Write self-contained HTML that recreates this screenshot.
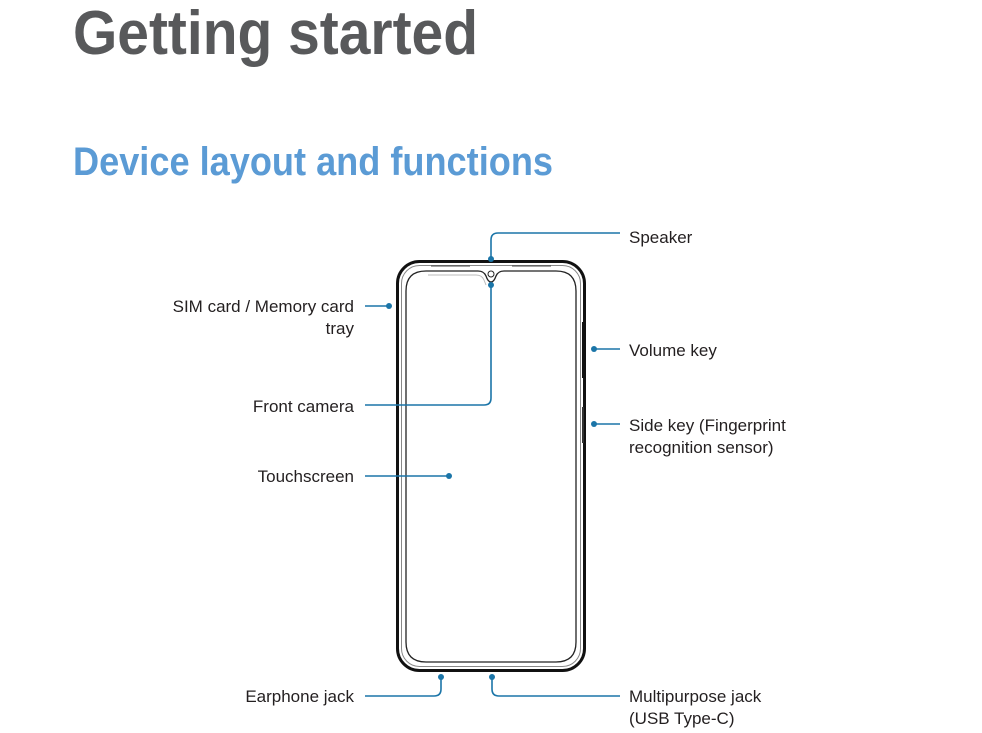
<!DOCTYPE html>
<html><head><meta charset="utf-8"><style>
html,body{margin:0;padding:0;background:#fff;}
svg{display:block;}
text{font-family:"Liberation Sans",sans-serif;}
.l{font-size:17px;fill:#231f20;}
</style></head><body>
<svg width="982" height="733" viewBox="0 0 982 733">
<text x="73" y="54" font-size="62" font-weight="bold" fill="#58595b" textLength="405" lengthAdjust="spacingAndGlyphs">Getting started</text>
<text x="73" y="175" font-size="40" font-weight="bold" fill="#5b9bd5" textLength="480" lengthAdjust="spacingAndGlyphs">Device layout and functions</text>

<!-- phone -->
<rect x="397.5" y="261.5" width="187" height="409" rx="22" fill="none" stroke="#111" stroke-width="3"/>
<rect x="401.5" y="265.5" width="179" height="401" rx="18" fill="none" stroke="#888" stroke-width="1"/>
<path d="M426 271 L478 271 Q484 271 486 276 Q488 282 491 282 Q494 282 496 276 Q498 271 504 271 L556 271 Q576 271 576 291 L576 642 Q576 662 556 662 L426 662 Q406 662 406 642 L406 291 Q406 271 426 271 Z" fill="none" stroke="#222" stroke-width="1.3"/>
<path d="M428 275 L476 275 Q482 275 484 280 L486 285" fill="none" stroke="#bbb" stroke-width="1"/>
<path d="M431 266 L470 266 M512 266 L551 266" stroke="#444" stroke-width="1"/>
<circle cx="491" cy="274" r="3" fill="none" stroke="#222" stroke-width="1"/>
<rect x="582" y="322" width="3.5" height="56" fill="#111"/>
<rect x="582" y="407" width="2" height="36" fill="#333"/>

<!-- connectors -->
<g stroke="#1b75a8" stroke-width="1.6" fill="none">
<path d="M491 259 L491 240 Q491 233 498 233 L620 233"/>
<path d="M491 285 L491 398 Q491 405 484 405 L365 405"/>
<path d="M365 306 L389 306"/>
<path d="M365 476 L449 476"/>
<path d="M594 349 L620 349"/>
<path d="M594 424 L620 424"/>
<path d="M441 677 L441 689 Q441 696 434 696 L365 696"/>
<path d="M492 677 L492 689 Q492 696 499 696 L620 696"/>
</g>
<g fill="#1b75a8">
<circle cx="491" cy="259" r="3"/><circle cx="491" cy="285" r="3"/>
<circle cx="389" cy="306" r="3"/><circle cx="449" cy="476" r="3"/>
<circle cx="594" cy="349" r="3"/><circle cx="594" cy="424" r="3"/>
<circle cx="441" cy="677" r="3"/><circle cx="492" cy="677" r="3"/>
</g>

<g class="l">
<text x="629" y="243">Speaker</text>
<text x="629" y="356">Volume key</text>
<text x="629" y="431">Side key (Fingerprint</text>
<text x="629" y="453">recognition sensor)</text>
<text x="629" y="702">Multipurpose jack</text>
<text x="629" y="724">(USB Type-C)</text>
</g>
<g class="l" text-anchor="end">
<text x="354" y="312">SIM card / Memory card</text>
<text x="354" y="334">tray</text>
<text x="354" y="412">Front camera</text>
<text x="354" y="482">Touchscreen</text>
<text x="354" y="702">Earphone jack</text>
</g>
</svg>
</body></html>
